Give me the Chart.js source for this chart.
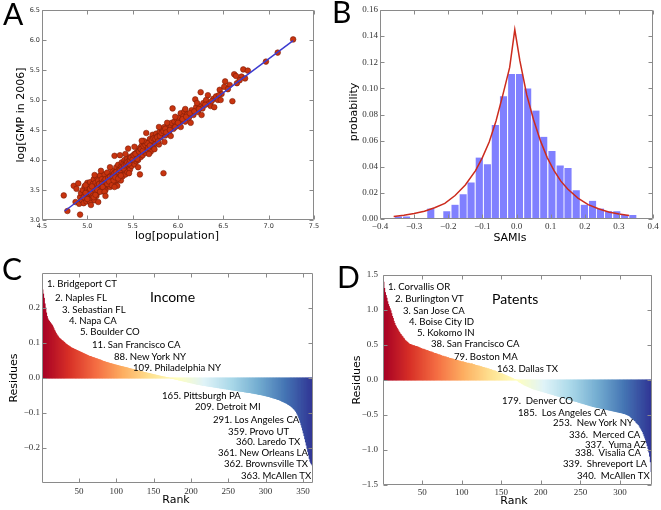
<!DOCTYPE html>
<html><head><meta charset="utf-8">
<script src="https://cdn.jsdelivr.net/npm/chart.js@4.4.0/dist/chart.umd.min.js"></script>
<style>
body{margin:0;background:#fff;width:661px;height:510px;position:relative;overflow:hidden}
canvas{position:absolute;left:0;top:0}
.t{position:absolute;white-space:pre;line-height:1;color:#000}
.lab{font-family:Lato,sans-serif;font-size:9.6px;transform:translateY(-50%)}
.ttl{font-family:Lato,sans-serif;font-size:14px;transform:translateY(-50%)}
.ax{font-family:"DejaVu Sans",sans-serif;font-size:11px;transform:translate(-50%,-50%)}
.rot{transform:translate(-50%,-50%) rotate(-90deg)}
.big{font-family:Lato,sans-serif;font-size:30px;color:#000}
</style></head><body>
<canvas id="ca" width="661" height="510"></canvas>
<canvas id="cb" width="661" height="510"></canvas>
<canvas id="cc" width="661" height="510"></canvas>
<canvas id="cd" width="661" height="510"></canvas>
<script>
// A: log population vs log GMP
const logPop=[
4.74,4.78,4.85,4.87,4.88,4.90,4.91,4.92,4.92,4.93,4.94,4.95,4.96,4.97,4.97,4.98,4.99,4.99,5.00,5.00,5.00,
5.01,5.01,5.02,5.02,5.03,5.03,5.04,5.04,5.05,5.05,5.06,5.06,5.07,5.07,5.08,5.08,5.09,5.09,5.10,5.10,5.10,
5.11,5.11,5.12,5.12,5.13,5.13,5.14,5.14,5.15,5.15,5.16,5.16,5.17,5.17,5.18,5.18,5.19,5.19,5.20,5.20,
5.21,5.21,5.22,5.22,5.23,5.23,5.24,5.24,5.25,5.25,5.26,5.26,5.27,5.27,5.28,5.28,5.29,5.29,5.30,5.30,
5.31,5.31,5.32,5.32,5.33,5.33,5.34,5.34,5.35,5.35,5.36,5.36,5.37,5.37,5.38,5.38,5.39,5.39,5.40,5.40,
5.41,5.41,5.42,5.42,5.43,5.43,5.44,5.44,5.45,5.45,5.46,5.46,5.47,5.47,5.48,5.49,5.49,5.50,5.50,
5.51,5.52,5.52,5.53,5.54,5.54,5.55,5.56,5.56,5.57,5.58,5.58,5.59,5.60,5.60,
5.61,5.62,5.63,5.64,5.65,5.65,5.66,5.67,5.68,5.69,5.70,5.70,
5.72,5.72,5.73,5.74,5.75,5.76,5.77,5.78,5.79,5.80,
5.81,5.82,5.83,5.84,5.85,5.86,5.88,5.89,5.90,5.92,5.93,5.94,5.95,5.96,5.98,5.99,
6.01,6.02,6.03,6.04,6.06,6.07,6.08,6.10,6.12,6.15,6.17,6.19,6.20,
6.22,6.24,6.25,6.27,6.28,6.31,6.34,6.36,6.39,6.42,6.44,6.46,6.48,
6.51,6.52,6.57,6.60,6.62,6.64,6.65,6.70,6.72,6.74,6.77,6.97,7.10,7.27,
5.02,5.04,5.06,5.08,5.10,5.12,5.13,5.15,5.16,5.18,5.20,5.21,5.23,5.25,5.26,5.28,5.30,5.32,5.33,5.35,
5.36,5.38,5.40,5.41,5.43,5.44,5.46,5.47,5.48,5.50,5.51,5.53,5.55,5.57,5.59,5.61,5.62,5.64,5.66,5.67,
5.69,5.71,5.73,5.75,5.77,5.78,5.80,5.82,5.84,5.86,5.87,5.91,5.97,6.00,6.05,6.09,6.13,6.18,6.23,6.30,
6.37,6.45,6.55,6.68,4.96,4.98,5.00,5.03,5.05,5.07,5.09,5.11,5.14,5.17,5.19,5.22,5.24,5.27,5.29,5.31,
5.34,5.37,
5.62,5.68,5.74,5.79,5.85,5.88,5.92,5.97,6.03,6.08,6.14,6.21,6.26,6.33,6.40,6.47,5.25,5.30,5.42,5.46,
5.52,5.56,5.60,5.08,5.15,4.98,5.04,5.12,5.20]
const logGmp=[
3.41,3.15,3.57,3.30,3.52,3.61,3.27,3.09,3.38,3.45,3.33,3.50,3.28,3.42,3.56,3.36,3.47,3.31,3.52,3.40,3.62,
3.44,3.35,3.58,3.49,3.30,3.63,3.41,3.53,3.46,3.37,3.60,3.50,3.43,3.68,3.55,3.33,3.47,3.62,3.52,3.40,3.72,
3.58,3.45,3.66,3.50,3.54,3.49,3.61,3.74,3.58,3.57,3.52,3.68,3.48,3.60,3.55,3.64,3.55,3.76,3.50,3.62,
3.58,3.68,3.66,3.79,3.63,3.60,3.71,3.57,3.66,3.55,3.74,3.61,3.62,3.69,3.82,3.64,3.58,3.76,3.70,4.07,
3.62,3.80,3.73,3.88,3.67,3.57,3.77,3.92,3.70,3.84,4.08,3.75,3.66,3.89,3.80,3.96,3.73,3.86,3.94,3.78,
3.83,4.00,3.90,3.76,3.97,3.86,4.03,3.80,4.19,3.92,3.99,3.88,4.05,3.84,3.95,4.02,3.90,4.07,3.96,
4.01,4.10,3.93,4.04,4.12,3.98,4.07,4.15,4.00,4.09,3.76,4.20,4.05,4.13,4.24,
4.08,4.18,4.27,4.12,4.45,4.22,4.16,4.30,4.21,4.35,4.26,4.14,
4.42,4.30,4.22,4.37,4.28,4.44,4.33,4.40,4.26,4.47,
4.38,4.52,4.44,3.78,4.55,4.41,4.50,4.58,4.46,4.55,4.62,4.86,4.52,4.64,4.58,4.68,
4.70,4.62,4.78,4.66,4.73,4.81,4.64,4.76,4.70,4.83,4.75,5.01,4.88,
4.80,4.90,5.13,4.86,4.95,5.00,4.94,4.90,5.02,5.06,5.00,5.17,5.10,
5.22,5.31,5.25,4.98,5.43,5.40,5.28,5.39,5.51,5.36,5.49,5.64,5.79,6.01,
3.47,3.45,3.40,3.50,3.46,3.55,3.60,3.52,3.60,3.58,3.68,3.62,3.70,3.72,3.67,3.73,3.78,3.80,3.75,3.79,
3.83,3.87,3.86,3.91,3.93,3.96,3.94,4.00,4.04,4.01,4.08,4.10,4.02,4.14,4.18,4.15,4.23,4.25,4.28,4.20,
4.24,4.33,4.36,4.35,4.38,4.31,4.40,4.45,4.48,4.52,4.46,4.50,4.55,4.62,4.68,4.72,4.78,4.81,4.85,4.92,
4.98,5.08,5.18,5.33,3.38,3.45,3.35,3.52,3.56,3.38,3.42,3.50,3.47,3.55,3.47,3.60,3.64,3.58,3.66,3.71,
3.69,3.74,
4.32,4.10,4.18,4.55,4.30,4.62,4.40,4.72,4.55,4.85,4.62,4.95,4.75,5.08,4.88,5.00,3.88,3.55,4.10,3.78,
4.22,3.88,4.32,3.75,3.82,3.58,3.25,3.30,3.40]
const fitX=[4.75,7.27], fitY=[3.15,5.99]

// B: SAMI histogram + fitted curve
const binMid=[-.347,-.323,-.300,-.276,-.252,-.228,-.205,-.181,-.157,-.134,-.110,-.086,-.063,-.039,-.015,
.008,.032,.056,.079,.103,.127,.150,.174,.198,.222,.245,.269,.293,.316,.340]
const binProb=[.002,.002,0,0,.008,0,.006,.011,.019,.028,.047,.042,.072,.094,.111,
.111,.100,.083,.063,.052,.041,.039,.022,.011,.014,.008,.006,.006,.003,.003]
const curveX=[-.36,-.33,-.30,-.27,-.24,-.21,-.18,-.15,-.12,-.10,-.08,-.06,-.04,-.02,-.005,.01,.03,.05,.07,.09,.11,.13,.15,.18,.21,.24,.27,.30,.33]
const curveY=[.002,.0029,.0042,.006,.0086,.012,.018,.026,.037,.047,.059,.075,.095,.116,.145,.121,.095,.076,.060,.047,.037,.029,.023,.016,.011,.0078,.0054,.0038,.0027]

// C: income residues by rank
const incomeRes=[
.252,.240,.228,.212,.200,.186,.176,.169,.165,.162,
.159,.156,.153,.150,.146,.141,.136,.132,.128,.124,
.121,.118,.115,.113,.111,.109,.107,.106,.104,.102,
.100,.098,.096,.095,.093,.092,.090,.089,.087,.086,
.085,.084,.083,.082,.081,.080,.079,.078,.077,.076,
.075,.074,.073,.072,.071,.070,.069,.068,.067,.066,
.065,.064,.063,.062,.062,.061,.060,.059,.058,.058,
.057,.056,.055,.055,.054,.053,.052,.052,.051,.050,
.049,.048,.047,.047,.046,.045,.045,.044,.043,.043,
.042,.041,.041,.040,.040,.039,.038,.038,.037,.037,
.036,.036,.035,.034,.034,.033,.033,.032,.032,.031,
.031,.030,.030,.029,.029,.028,.027,.027,.026,.026,
.025,.025,.024,.024,.023,.023,.022,.022,.021,.020,
.020,.019,.019,.018,.018,.017,.016,.016,.015,.015,
.014,.014,.013,.013,.012,.012,.011,.011,.010,.010,
.009,.009,.008,.008,.007,.007,.006,.006,.005,.005,
.004,.004,.003,.003,.003,.002,.002,.001,.001,.001,
0,0,-.001,-.001,-.002,-.002,-.002,-.003,-.003,-.004,
-.004,-.005,-.005,-.006,-.006,-.007,-.007,-.008,-.008,-.009,
-.009,-.010,-.010,-.011,-.011,-.012,-.012,-.013,-.013,-.014,
-.014,-.015,-.015,-.016,-.016,-.017,-.017,-.018,-.018,-.019,
-.019,-.019,-.020,-.020,-.021,-.021,-.021,-.022,-.022,-.022,
-.023,-.023,-.023,-.024,-.024,-.024,-.025,-.025,-.025,-.026,
-.026,-.026,-.027,-.027,-.027,-.028,-.028,-.028,-.029,-.029,
-.029,-.030,-.030,-.030,-.031,-.031,-.031,-.032,-.032,-.032,
-.033,-.033,-.033,-.034,-.034,-.034,-.035,-.035,-.035,-.036,
-.036,-.036,-.037,-.037,-.037,-.038,-.038,-.038,-.039,-.039,
-.039,-.040,-.040,-.040,-.041,-.041,-.041,-.042,-.042,-.042,
-.043,-.043,-.043,-.044,-.044,-.045,-.045,-.045,-.046,-.046,
-.047,-.047,-.047,-.048,-.048,-.049,-.049,-.050,-.050,-.051,
-.051,-.052,-.052,-.053,-.053,-.054,-.055,-.055,-.056,-.057,
-.057,-.058,-.059,-.059,-.060,-.061,-.062,-.062,-.063,-.064,
-.065,-.066,-.067,-.068,-.069,-.070,-.071,-.072,-.073,-.075,
-.076,-.077,-.079,-.080,-.082,-.084,-.086,-.088,-.090,-.093,
-.096,-.100,-.104,-.109,-.114,-.120,-.127,-.134,-.141,-.149,
-.157,-.165,-.174,-.183,-.192,-.201,-.210,-.220,-.230,-.238,
-.243,-.246,-.249]

// D: patent residues by rank
const patentRes=[
1.40,1.31,1.25,1.21,1.17,1.12,1.08,1.05,1.02,.99,
.95,.91,.88,.84,.81,.78,.76,.74,.72,.70,
.68,.66,.65,.63,.62,.60,.59,.57,.56,.55,
.54,.53,.52,.51,.51,.50,.50,.49,.49,.49,
.48,.48,.48,.47,.47,.46,.46,.45,.45,.44,
.44,.44,.43,.43,.42,.42,.42,.41,.41,.40,
.40,.40,.39,.39,.38,.38,.38,.37,.37,.36,
.36,.36,.35,.35,.34,.34,.34,.33,.33,.33,
.32,.32,.32,.31,.31,.31,.30,.30,.30,.29,
.29,.29,.28,.28,.28,.27,.27,.27,.26,.26,
.26,.26,.25,.25,.25,.24,.24,.24,.24,.23,
.23,.23,.23,.22,.22,.22,.21,.21,.21,.20,
.20,.20,.19,.19,.19,.18,.18,.18,.17,.17,
.17,.16,.16,.16,.15,.15,.15,.14,.14,.13,
.13,.13,.12,.12,.11,.11,.10,.10,.09,.09,
.09,.08,.08,.07,.07,.06,.06,.05,.05,.04,
.04,.03,.03,.02,.02,.01,.01,.005,.002,-.002,
-.01,-.02,-.03,-.035,-.04,-.05,-.055,-.06,-.07,-.075,
-.08,-.085,-.09,-.095,-.10,-.105,-.11,-.115,-.12,-.125,
-.13,-.13,-.135,-.14,-.14,-.145,-.15,-.15,-.155,-.16,
-.16,-.165,-.17,-.17,-.175,-.18,-.18,-.185,-.19,-.19,
-.195,-.20,-.20,-.205,-.21,-.21,-.215,-.22,-.22,-.225,
-.23,-.23,-.235,-.24,-.24,-.245,-.25,-.25,-.255,-.26,
-.26,-.265,-.27,-.27,-.275,-.28,-.28,-.285,-.29,-.29,
-.295,-.30,-.30,-.305,-.31,-.31,-.315,-.32,-.32,-.325,
-.33,-.33,-.335,-.34,-.34,-.345,-.35,-.35,-.355,-.36,
-.36,-.365,-.37,-.37,-.375,-.38,-.38,-.385,-.385,-.39,
-.39,-.395,-.395,-.40,-.40,-.405,-.405,-.41,-.41,-.415,
-.415,-.42,-.42,-.425,-.425,-.43,-.43,-.435,-.435,-.44,
-.44,-.445,-.445,-.45,-.45,-.455,-.455,-.46,-.46,-.465,
-.465,-.47,-.47,-.475,-.48,-.48,-.485,-.49,-.495,-.50,
-.505,-.51,-.52,-.53,-.54,-.55,-.56,-.57,-.58,-.59,
-.61,-.62,-.63,-.64,-.66,-.68,-.70,-.72,-.74,-.77,
-.80,-.83,-.86,-.90,-.94,-.98,-1.03,-1.09,-1.17,-1.31]

const aXTicks=[4.5,5,5.5,6,6.5,7,7.5], aYTicks=[3,3.5,4,4.5,5,5.5,6,6.5]
const bXTicks=[-.4,-.3,-.2,-.1,0,.1,.2,.3,.4], bYTicks=[0,.02,.04,.06,.08,.1,.12,.14,.16]
const cXTicks=[50,100,150,200,250,300,350], cYTicks=[-.2,-.1,0,.1,.2]
const dXTicks=[50,100,150,200,250,300], dYTicks=[-1.5,-1,-.5,0,.5,1,1.5]

const incomeTop=[["1. Bridgeport CT",47,284],["2. Naples FL",55,298],["3. Sebastian FL",62,310],["4. Napa CA",69,321],
 ["5. Boulder CO",80,332],["11. San Francisco CA",92,345],["88. New York NY",114,357],["109. Philadelphia NY",133,368]]
const incomeLow=[["165. Pittsburgh PA",162,396],["209. Detroit MI",195,407],["291. Los Angeles CA",213,420],["359. Provo UT",228,432],
 ["360. Laredo TX",236,442],["361. New Orleans LA",218,453],["362. Brownsville TX",224,464],["363. McAllen TX",241,476]]
const patentTop=[["1. Corvallis OR",388,287],["2. Burlington VT",395,299],["3. San Jose CA",403,311],["4. Boise City ID",409,322],
 ["5. Kokomo IN",417,333],["38. San Francisco CA",431,344],["79. Boston MA",454,357],["163. Dallas TX",497,369]]
const patentLow=[["179.  Denver CO",502,401],["185.  Los Angeles CA",518,413],["253.  New York NY",553,423],["336.  Merced CA",569,435],
 ["337.  Yuma AZ",585,445],["338.  Visalia CA",575,453],["339.  Shreveport LA",563,464],["340.  McAllen TX",577,476]]

const rdylbu=[[165,0,38],[215,48,39],[244,109,67],[253,174,97],[254,224,144],[255,255,191],[224,243,248],[171,217,233],[116,173,209],[69,117,180],[49,54,149]]
function cmap(t){
  const p=t*10,i=Math.min(9,Math.floor(p)),f=p-i,a=rdylbu[i],b=rdylbu[i+1]
  return "rgb("+a.map((v,k)=>Math.round(v+(b[k]-v)*f)).join(",")+")"
}

const frame={id:"frame",afterDraw(c){
  const ctx=c.ctx,a=c.chartArea,x=c.scales.x,y=c.scales.y
  const L=Math.round(a.left)+.5,R=Math.round(a.right)-.5,T=Math.round(a.top)+.5,B=Math.round(a.bottom)-.5
  ctx.save();ctx.strokeStyle="#8a8a8a";ctx.lineWidth=1;ctx.beginPath()
  x.ticks.forEach(t=>{const p=Math.round(x.getPixelForValue(t.value))+.5;ctx.moveTo(p,B);ctx.lineTo(p,B-4);ctx.moveTo(p,T);ctx.lineTo(p,T+4)})
  y.ticks.forEach(t=>{const p=Math.round(y.getPixelForValue(t.value))+.5;ctx.moveTo(L,p);ctx.lineTo(L+4,p);ctx.moveTo(R,p);ctx.lineTo(R-4,p)})
  ctx.rect(L,T,R-L,B-T);ctx.stroke();ctx.restore()
}}

const YW=36, XH=16
const minus=s=>s.replace("-","\u2212")
const sans={family:"DejaVu Sans",size:6.5}, serif={family:"Liberation Serif",size:9}
function lin(min,max,ticks,font,fmt,pad){
  return {type:"linear",min,max,offset:false,
    grid:{display:false,drawTicks:false},border:{display:false},
    afterBuildTicks:s=>{s.ticks=ticks.map(value=>({value}))},
    afterFit:s=>{if(s.isHorizontal())s.height=XH;else s.width=YW},
    ticks:{font,color:"#333",padding:pad,autoSkip:false,maxRotation:0,callback:fmt}}
}
function opts(l,t,r,b,x,y){
  return {responsive:false,animation:false,events:[],
    layout:{padding:{left:l-YW,top:t,right:661-r,bottom:510-b-XH}},
    plugins:{legend:{display:false},tooltip:{enabled:false}},
    scales:{x,y}}
}

new Chart(document.getElementById("ca"),{type:"scatter",plugins:[frame],
  data:{datasets:[
    {data:fitX.map((x,i)=>({x,y:fitY[i]})),showLine:true,borderColor:"#3b3bd0",borderWidth:1.5,pointRadius:0,order:0},
    {data:logPop.map((x,i)=>({x,y:logGmp[i]})),backgroundColor:"#c8340f",borderColor:"#7c1d08",borderWidth:.6,pointRadius:2.8,order:1}]},
  options:opts(42,10,314,220,lin(4.5,7.5,aXTicks,sans,v=>v.toFixed(1),2),lin(3,6.5,aYTicks,sans,v=>v.toFixed(1),2))})

new Chart(document.getElementById("cb"),{type:"bar",plugins:[frame],
  data:{datasets:[
    {type:"line",data:curveX.map((x,i)=>({x,y:curveY[i]})),borderColor:"#cc2b1d",borderWidth:1.5,pointRadius:0,tension:0,order:0},
    {data:binMid.map((x,i)=>({x,y:binProb[i]})),backgroundColor:"#8080ff",borderColor:"rgba(255,255,255,.9)",
     borderWidth:{left:1,right:0,top:0,bottom:0},barPercentage:1,categoryPercentage:1,order:1}]},
  options:opts(380,10,653,219,lin(-.4,.4,bXTicks,serif,v=>minus(v.toFixed(1)),2),lin(0,.16,bYTicks,serif,v=>v.toFixed(2),2))})

new Chart(document.getElementById("cc"),{type:"bar",plugins:[frame],
  data:{datasets:[{data:incomeRes.map((y,i)=>({x:i+1,y})),backgroundColor:incomeRes.map((_,i,a)=>cmap(i/(a.length-1))),barThickness:1.3,borderWidth:0}]},
  options:opts(42,273,313,483,lin(.5,363.5,cXTicks,serif,v=>String(v),3),lin(-.3,.3,cYTicks,serif,v=>minus(v.toFixed(1)),2))})

new Chart(document.getElementById("cd"),{type:"bar",plugins:[frame],
  data:{datasets:[{data:patentRes.map((y,i)=>({x:i+1,y})),backgroundColor:patentRes.map((_,i,a)=>cmap(i/(a.length-1))),barThickness:1.3,borderWidth:0}]},
  options:opts(383,275,652,485,lin(.5,340.5,dXTicks,serif,v=>String(v),2),lin(-1.5,1.5,dYTicks,serif,v=>minus(v.toFixed(1)),5))})

function put(text,x,y,cls){
  const d=document.createElement("div");d.className="t "+cls;d.textContent=text
  d.style.left=x+"px";d.style.top=y+"px";document.body.appendChild(d)
}
put("A",3,-2,"big");put("B",332,-4,"big");put("C",2,253,"big");put("D",337,261,"big")
put("log[GMP in 2006]",20,115,"ax rot");put("log[population]",177,235,"ax")
put("probability",353,112,"ax rot");put("SAMIs",510,237,"ax")
put("Residues",13,378,"ax rot");put("Rank",176,499,"ax")
put("Residues",356,380,"ax rot");put("Rank",514,500,"ax")
put("Income",150,297,"ttl");put("Patents",492,299,"ttl")
incomeTop.concat(incomeLow,patentTop,patentLow).forEach(n=>put(n[0],n[1],n[2],"lab"))
</script>
</body></html>
